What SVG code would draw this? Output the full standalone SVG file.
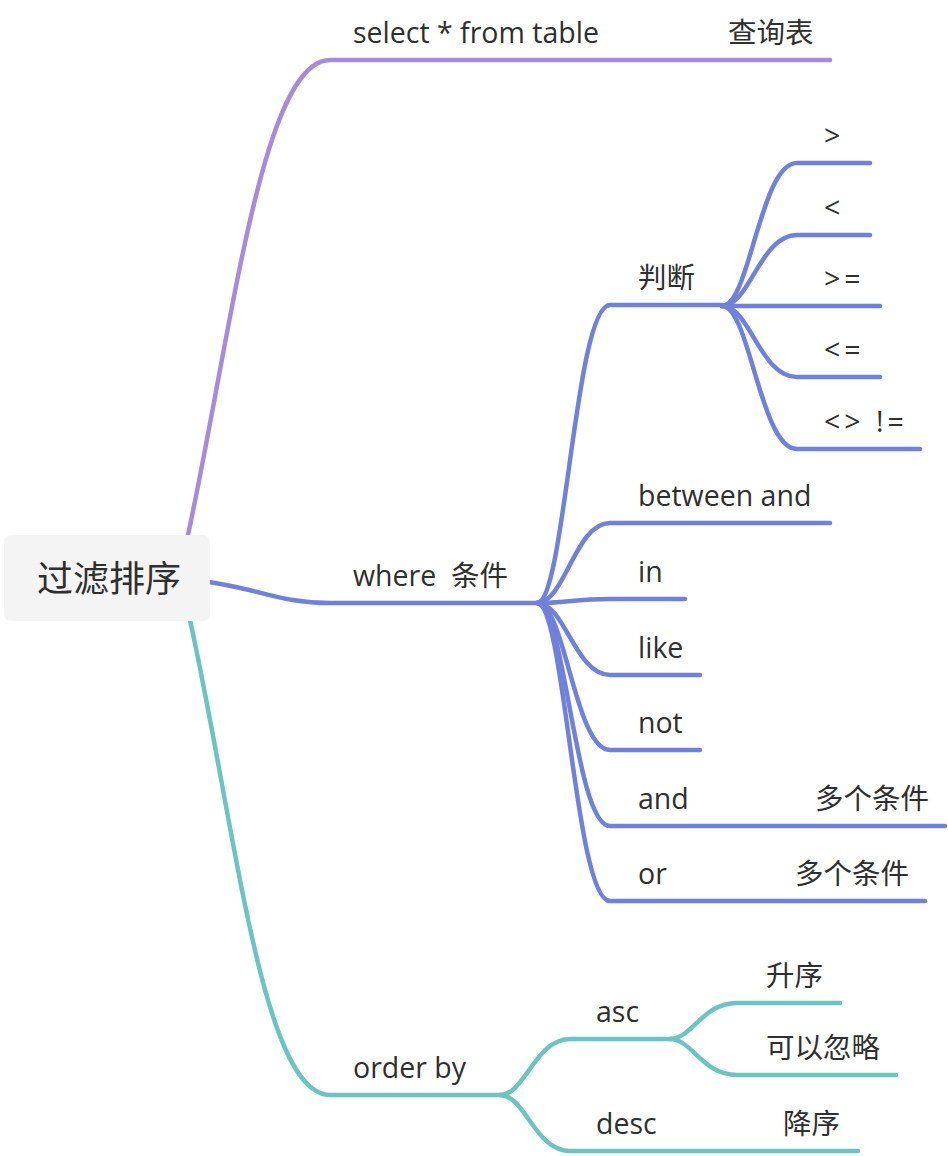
<svg xmlns="http://www.w3.org/2000/svg" width="948" height="1156" viewBox="0 0 948 1156">
<style>
text{font-family:"Open Sans","Noto Sans CJK SC",sans-serif;font-size:28.5px;fill:#2f2f2f;white-space:pre}
.root{font-size:36px}
.op{letter-spacing:4px}
.ln{fill:none;stroke-width:4.5;stroke-linecap:round;stroke-linejoin:round}
.p{stroke:#a68bdc}
.b{stroke:#6f81da}
.t{stroke:#6cc4c2}
</style>
<rect width="948" height="1156" fill="#fff"/>
<g id="connectors">
  <path class="ln p" d="M188,535 C232,330 262,60 330,60 H830"/>
  <path class="ln b" d="M209,582 C262,590 282,603 330,603 H537"/>
  <path class="ln t" d="M190,620 C236,830 262,1095 330,1095 H500"/>
  <path class="ln b" d="M537,603 C565,603 575,305 610,305 H722"/>
  <path class="ln b" d="M537,603 C565,603 575,523 610,523 H830"/>
  <path class="ln b" d="M537,603 C565,603 575,599 610,599 H685"/>
  <path class="ln b" d="M537,603 C565,603 575,675 610,675 H700"/>
  <path class="ln b" d="M537,603 C565,603 575,750 610,750 H700"/>
  <path class="ln b" d="M537,603 C565,603 575,826 610,826 H945"/>
  <path class="ln b" d="M537,603 C565,603 575,901 610,901 H925"/>
  <path class="ln b" d="M722,306 C750,306 760,163 797,163 H870"/>
  <path class="ln b" d="M722,306 C750,306 760,235 797,235 H870"/>
  <path class="ln b" d="M722,306 H880"/>
  <path class="ln b" d="M722,306 C750,306 760,377 797,377 H880"/>
  <path class="ln b" d="M722,306 C750,306 760,449 797,449 H920"/>
  <path class="ln t" d="M500,1095 C525,1095 535,1039 570,1039 H672"/>
  <path class="ln t" d="M500,1095 C525,1095 535,1151 570,1151 H858"/>
  <path class="ln t" d="M670,1039 C692,1039 702,1003 737,1003 H840"/>
  <path class="ln t" d="M670,1039 C692,1039 702,1075 737,1075 H896"/>
</g>
<g id="root">
  <rect x="4" y="535" width="206" height="86" rx="7" fill="#f4f4f4"/>
  <text class="root" x="37" y="592">过滤排序</text>
</g>
<g id="select"><text x="353" y="43">select * from table</text><text x="728" y="43">查询表</text></g>
<g id="where"><text x="353" y="586">where  条件</text></g>
<g id="orderby"><text x="353" y="1078">order by</text></g>
<g id="panduan"><text x="638" y="288">判断</text></g>
<g id="gt"><text class="op" x="824" y="146">&gt;</text></g>
<g id="lt"><text class="op" x="824" y="218">&lt;</text></g>
<g id="ge"><text class="op" x="824" y="289">&gt;=</text></g>
<g id="le"><text class="op" x="824" y="360">&lt;=</text></g>
<g id="ne"><text class="op" x="824" y="432">&lt;&gt; !=</text></g>
<g id="between"><text x="638" y="506">between and</text></g>
<g id="in"><text x="638" y="582">in</text></g>
<g id="like"><text x="638" y="658">like</text></g>
<g id="not"><text x="638" y="733">not</text></g>
<g id="and"><text x="638" y="809">and</text><text x="815" y="809">多个条件</text></g>
<g id="or"><text x="638" y="884">or</text><text x="795" y="884">多个条件</text></g>
<g id="asc"><text x="596" y="1022">asc</text></g>
<g id="shengxu"><text x="766" y="986">升序</text></g>
<g id="kehulue"><text x="766" y="1058">可以忽略</text></g>
<g id="desc"><text x="596" y="1134">desc</text><text x="783" y="1134">降序</text></g>
</svg>
